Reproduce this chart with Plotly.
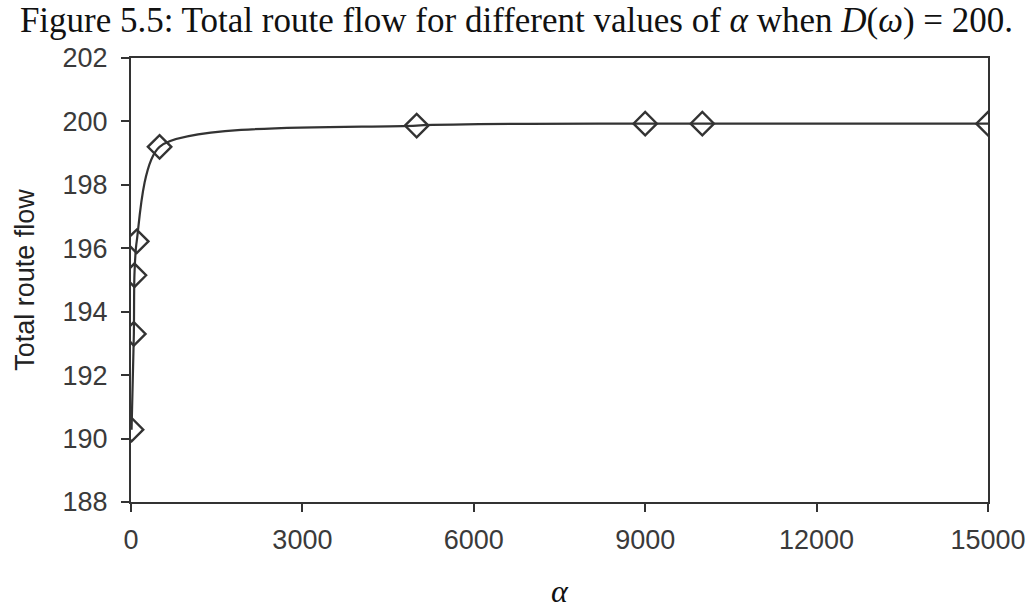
import plotly.graph_objects as go

# Total route flow against alpha, with demand D(omega) = 200
alpha = [10, 50, 60, 100, 500, 5000, 9000, 10000, 15000]
total_flow = [190.28, 193.3, 195.15, 196.22, 199.2, 199.87, 199.93, 199.93, 199.93]

x_ticks = [0, 3000, 6000, 9000, 12000, 15000]
y_ticks = [188, 190, 192, 194, 196, 198, 200, 202]

ink = "#333333"
sans = "Liberation Sans, Arial, sans-serif"
serif = "Liberation Serif, Times New Roman, serif"

fig = go.Figure()
fig.add_trace(go.Scatter(
    x=alpha,
    y=total_flow,
    mode="lines+markers",
    line=dict(color=ink, width=2.2, shape="spline", smoothing=0.7),
    marker=dict(symbol="diamond-open", size=18, color=ink, line=dict(width=2.4, color=ink)),
    showlegend=False,
    hoverinfo="x+y",
))

fig.update_layout(
    width=1033,
    height=609,
    margin=dict(l=131, r=45, t=58, b=107),
    paper_bgcolor="white",
    plot_bgcolor="white",
    title=dict(
        text="Figure 5.5: Total route flow for different values of <i>α</i> when <i>D</i>(<i>ω</i>) = 200.",
        font=dict(family=serif, size=35, color="#111111"),
        xref="container", x=0.5, xanchor="center",
        yref="container", y=1 - 20 / 609, yanchor="middle",
    ),
)

fig.update_xaxes(
    range=[0, 15000],
    tickvals=x_ticks,
    ticktext=[str(v) for v in x_ticks],
    ticks="outside", ticklen=8, tickwidth=2, tickcolor=ink,
    ticklabelstandoff=5,
    showline=True, linecolor=ink, linewidth=2, mirror=True,
    showgrid=False, zeroline=False, automargin=False,
    tickfont=dict(family=sans, size=27, color="#3a3a3a"),
    title=dict(text="<i>α</i>", font=dict(family=serif, size=32, color="#111111"), standoff=27),
)
fig.update_yaxes(
    range=[188, 202],
    tickvals=y_ticks,
    ticktext=[str(v) for v in y_ticks],
    ticks="outside", ticklen=8, tickwidth=2, tickcolor=ink,
    ticklabelstandoff=8,
    showline=True, linecolor=ink, linewidth=2, mirror=True,
    showgrid=False, zeroline=False, automargin=False,
    tickfont=dict(family=sans, size=27, color="#3a3a3a"),
    title=dict(text="Total route flow", font=dict(family=sans, size=27, color="#222222"), standoff=20),
)

fig.write_html("out.html")
